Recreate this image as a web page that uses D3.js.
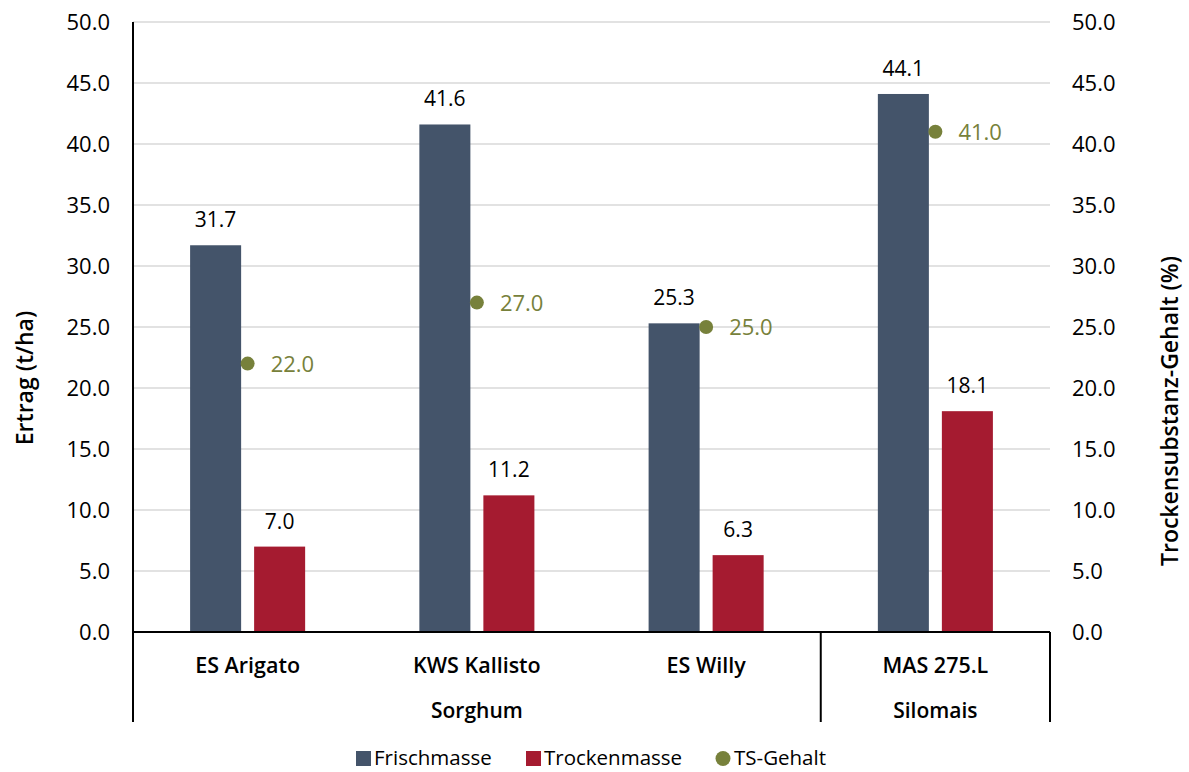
<!DOCTYPE html>
<html><head><meta charset="utf-8">
<script src="https://cdn.jsdelivr.net/npm/d3@7/dist/d3.min.js"></script>
<style>body{margin:0;background:#fff;} svg{display:block;font-family:"Open Sans", Lato, sans-serif;}</style>
</head><body><svg id="c" width="1189" height="772"></svg>
<script>
const categories = ["ES Arigato", "KWS Kallisto", "ES Willy", "MAS 275.L"];
const groups = [{name:"Sorghum", from:0, to:2}, {name:"Silomais", from:3, to:3}];
const frischmasse = [31.7, 41.6, 25.3, 44.1];
const trockenmasse = [7.0, 11.2, 6.3, 18.1];
const tsGehalt = [22.0, 27.0, 25.0, 41.0];
const yTicks = [0, 5, 10, 15, 20, 25, 30, 35, 40, 45, 50];
const seriesNames = ["Frischmasse", "Trockenmasse", "TS-Gehalt"];
const colors = {fm:"#44546a", tm:"#a51b30", ts:"#77813b"};

const svg = d3.select("#c");
const L = 133, R = 1050, T = 22, B = 632, AX = 722;
const FONT = '"Open Sans", Lato, sans-serif';
const x = d3.scaleBand().domain(categories).range([L, R]).paddingInner(0).paddingOuter(0);
const sub = d3.scaleBand().domain(["fm","tm"]).range([0, x.bandwidth()]).paddingInner(0.203).paddingOuter(0.892);
const y = d3.scaleLinear().domain([0, 50]).range([B, T]);
const y2 = d3.scaleLinear().domain([0, 50]).range([B, T]);

// grid
svg.append("g").selectAll("line").data(yTicks.filter(d=>d>0)).join("line")
  .attr("x1", L).attr("x2", R).attr("y1", d=>y(d)).attr("y2", d=>y(d))
  .attr("stroke", "#d9d9d9").attr("stroke-width", 1.3);

// axes
const la = svg.append("g").attr("transform", `translate(${L},0)`)
  .call(d3.axisLeft(y).tickValues(yTicks).tickFormat(d3.format(".1f")).tickSize(0).tickPadding(23));
la.select(".domain").remove();
la.selectAll("text").attr("font-size", 22).attr("fill", "#000").attr("font-family", FONT);
const ra = svg.append("g").attr("transform", `translate(${R},0)`)
  .call(d3.axisRight(y2).tickValues(yTicks).tickFormat(d3.format(".1f")).tickSize(0).tickPadding(22));
ra.select(".domain").remove();
ra.selectAll("text").attr("font-size", 22).attr("fill", "#000").attr("font-family", FONT);

// bars
const bw = sub.bandwidth();
svg.append("g").selectAll("rect").data(frischmasse).join("rect")
  .attr("x", (d,i)=>x(categories[i]) + sub("fm")).attr("width", bw)
  .attr("y", d=>y(d)).attr("height", d=>B - y(d)).attr("fill", colors.fm);
svg.append("g").selectAll("rect").data(trockenmasse).join("rect")
  .attr("x", (d,i)=>x(categories[i]) + sub("tm")).attr("width", bw)
  .attr("y", d=>y(d)).attr("height", d=>B - y(d)).attr("fill", colors.tm);

// bar labels
const fmt = d3.format(".1f");
svg.append("g").selectAll("text").data(frischmasse).join("text")
  .attr("x", (d,i)=>x(categories[i]) + sub("fm") + bw/2).attr("y", d=>y(d) - 18)
  .attr("text-anchor", "middle").attr("font-size", 21).attr("fill", "#000").text(fmt);
svg.append("g").selectAll("text").data(trockenmasse).join("text")
  .attr("x", (d,i)=>x(categories[i]) + sub("tm") + bw/2).attr("y", d=>y(d) - 18)
  .attr("text-anchor", "middle").attr("font-size", 21).attr("fill", "#000").text(fmt);

// TS points
svg.append("g").selectAll("circle").data(tsGehalt).join("circle")
  .attr("cx", (d,i)=>x(categories[i]) + x.bandwidth()/2).attr("cy", d=>y2(d)).attr("r", 7)
  .attr("fill", colors.ts);
svg.append("g").selectAll("text").data(tsGehalt).join("text")
  .attr("x", (d,i)=>x(categories[i]) + x.bandwidth()/2 + 23).attr("y", d=>y2(d) + 8)
  .attr("font-size", 22).attr("fill", colors.ts).text(fmt);

// axis lines
const ax = svg.append("g").attr("stroke", "#000").attr("stroke-width", 2);
ax.append("line").attr("x1", L).attr("x2", R).attr("y1", B).attr("y2", B);
ax.append("line").attr("x1", L).attr("x2", L).attr("y1", T).attr("y2", AX);
groups.forEach(g => {
  const xe = x(categories[g.to]) + x.bandwidth();
  ax.append("line").attr("x1", xe).attr("x2", xe).attr("y1", B).attr("y2", AX);
});

// category labels
svg.append("g").selectAll("text").data(categories).join("text")
  .attr("x", d=>x(d) + x.bandwidth()/2).attr("y", 673).attr("text-anchor", "middle")
  .attr("font-size", 21.5).attr("font-weight", 600).attr("fill", "#000").text(d=>d);
svg.append("g").selectAll("text").data(groups).join("text")
  .attr("x", g=>(x(categories[g.from]) + x(categories[g.to]) + x.bandwidth())/2).attr("y", 718)
  .attr("text-anchor", "middle").attr("font-size", 21).attr("font-weight", 600).attr("fill", "#000").text(g=>g.name);

// axis titles
svg.append("text").attr("transform", "translate(33,378) rotate(-90)").attr("text-anchor", "middle")
  .attr("font-size", 23).attr("font-weight", 600).attr("fill", "#000").text("Ertrag (t/ha)");
svg.append("text").attr("transform", "translate(1178,411) rotate(-90)").attr("text-anchor", "middle")
  .attr("font-size", 23).attr("font-weight", 600).attr("fill", "#000").text("Trockensubstanz-Gehalt (%)");

// legend
const lg = svg.append("g");
const items = [{x:356, c:colors.fm, t:seriesNames[0], shape:"rect"},
               {x:526, c:colors.tm, t:seriesNames[1], shape:"rect"},
               {x:716, c:colors.ts, t:seriesNames[2], shape:"circle"}];
items.forEach(it => {
  if (it.shape === "rect") lg.append("rect").attr("x", it.x).attr("y", 751).attr("width", 15).attr("height", 15).attr("fill", it.c);
  else lg.append("circle").attr("cx", it.x + 7).attr("cy", 758.5).attr("r", 7.5).attr("fill", it.c);
  lg.append("text").attr("x", it.x + 18).attr("y", 765).attr("font-size", 20.5).attr("fill", "#000").text(it.t);
});
</script></body></html>
